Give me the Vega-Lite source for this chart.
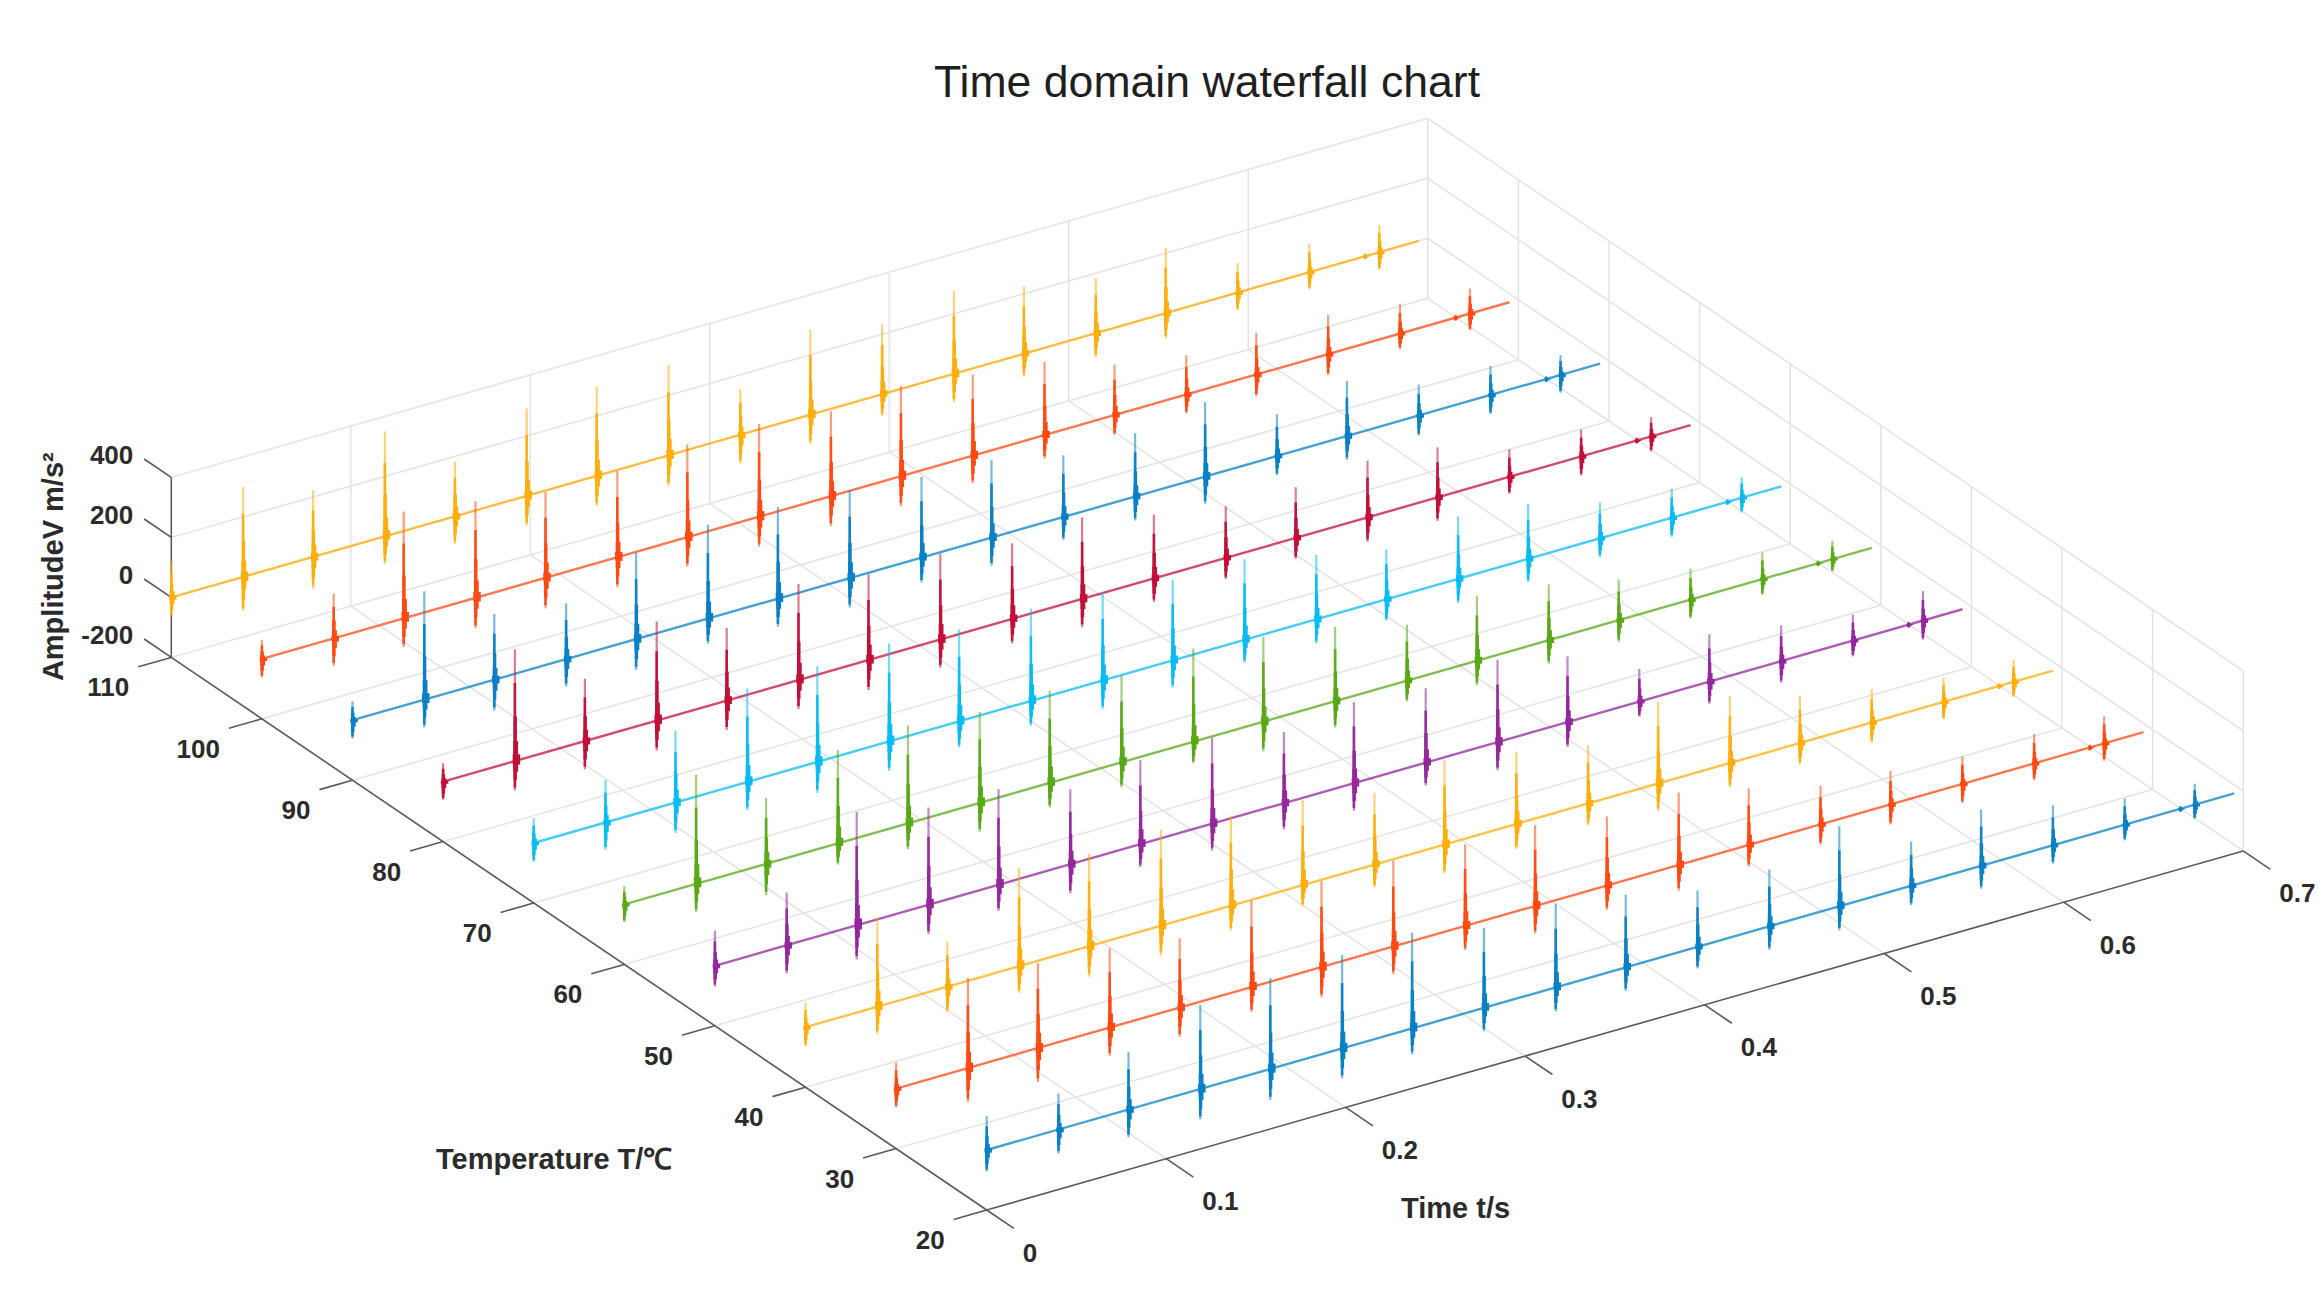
{"$schema":"https://vega.github.io/schema/vega-lite/v6.json","width":2324,"height":1302,"padding":0,"autosize":{"type":"none"},"background":"white","config":{"view":{"stroke":null}},
"title":{"text":"Time domain waterfall chart","anchor":"middle","frame":"group","dx":45,"dy":111,"fontSize":44.6,"fontWeight":"normal","font":"Liberation Sans","color":"#1f1f1f"},
"datasets":{
"grid":[
{"t":0.1,"T":20,"a":-200,"t2":0.1,"T2":110,"a2":-200},{"t":0.2,"T":20,"a":-200,"t2":0.2,"T2":110,"a2":-200},{"t":0.3,"T":20,"a":-200,"t2":0.3,"T2":110,"a2":-200},{"t":0.4,"T":20,"a":-200,"t2":0.4,"T2":110,"a2":-200},{"t":0.5,"T":20,"a":-200,"t2":0.5,"T2":110,"a2":-200},{"t":0.6,"T":20,"a":-200,"t2":0.6,"T2":110,"a2":-200},{"t":0.7,"T":20,"a":-200,"t2":0.7,"T2":110,"a2":-200},
{"t":0,"T":30,"a":-200,"t2":0.7,"T2":30,"a2":-200},{"t":0,"T":40,"a":-200,"t2":0.7,"T2":40,"a2":-200},{"t":0,"T":50,"a":-200,"t2":0.7,"T2":50,"a2":-200},{"t":0,"T":60,"a":-200,"t2":0.7,"T2":60,"a2":-200},{"t":0,"T":70,"a":-200,"t2":0.7,"T2":70,"a2":-200},{"t":0,"T":80,"a":-200,"t2":0.7,"T2":80,"a2":-200},{"t":0,"T":90,"a":-200,"t2":0.7,"T2":90,"a2":-200},{"t":0,"T":100,"a":-200,"t2":0.7,"T2":100,"a2":-200},{"t":0,"T":110,"a":-200,"t2":0.7,"T2":110,"a2":-200},
{"t":0.1,"T":110,"a":-200,"t2":0.1,"T2":110,"a2":400},{"t":0.2,"T":110,"a":-200,"t2":0.2,"T2":110,"a2":400},{"t":0.3,"T":110,"a":-200,"t2":0.3,"T2":110,"a2":400},{"t":0.4,"T":110,"a":-200,"t2":0.4,"T2":110,"a2":400},{"t":0.5,"T":110,"a":-200,"t2":0.5,"T2":110,"a2":400},{"t":0.6,"T":110,"a":-200,"t2":0.6,"T2":110,"a2":400},{"t":0.7,"T":110,"a":-200,"t2":0.7,"T2":110,"a2":400},
{"t":0,"T":110,"a":0,"t2":0.7,"T2":110,"a2":0},{"t":0,"T":110,"a":200,"t2":0.7,"T2":110,"a2":200},{"t":0,"T":110,"a":400,"t2":0.7,"T2":110,"a2":400},
{"t":0.7,"T":20,"a":-200,"t2":0.7,"T2":20,"a2":400},{"t":0.7,"T":30,"a":-200,"t2":0.7,"T2":30,"a2":400},{"t":0.7,"T":40,"a":-200,"t2":0.7,"T2":40,"a2":400},{"t":0.7,"T":50,"a":-200,"t2":0.7,"T2":50,"a2":400},{"t":0.7,"T":60,"a":-200,"t2":0.7,"T2":60,"a2":400},{"t":0.7,"T":70,"a":-200,"t2":0.7,"T2":70,"a2":400},{"t":0.7,"T":80,"a":-200,"t2":0.7,"T2":80,"a2":400},{"t":0.7,"T":90,"a":-200,"t2":0.7,"T2":90,"a2":400},{"t":0.7,"T":100,"a":-200,"t2":0.7,"T2":100,"a2":400},
{"t":0.7,"T":20,"a":0,"t2":0.7,"T2":110,"a2":0},{"t":0.7,"T":20,"a":200,"t2":0.7,"T2":110,"a2":200},{"t":0.7,"T":20,"a":400,"t2":0.7,"T2":110,"a2":400}],
"axes":[
{"t":0,"T":20,"a":-200,"t2":0.7,"T2":20,"a2":-200},{"t":0,"T":20,"a":-200,"t2":0,"T2":110,"a2":-200},{"t":0,"T":110,"a":-200,"t2":0,"T2":110,"a2":400},
{"t":0,"T":20,"a":-200,"t2":-0.0184,"T2":20,"a2":-200},{"t":0,"T":30,"a":-200,"t2":-0.0184,"T2":30,"a2":-200},{"t":0,"T":40,"a":-200,"t2":-0.0184,"T2":40,"a2":-200},{"t":0,"T":50,"a":-200,"t2":-0.0184,"T2":50,"a2":-200},{"t":0,"T":60,"a":-200,"t2":-0.0184,"T2":60,"a2":-200},{"t":0,"T":70,"a":-200,"t2":-0.0184,"T2":70,"a2":-200},{"t":0,"T":80,"a":-200,"t2":-0.0184,"T2":80,"a2":-200},{"t":0,"T":90,"a":-200,"t2":-0.0184,"T2":90,"a2":-200},{"t":0,"T":100,"a":-200,"t2":-0.0184,"T2":100,"a2":-200},{"t":0,"T":110,"a":-200,"t2":-0.0184,"T2":110,"a2":-200},
{"t":0,"T":20,"a":-200,"t2":0,"T2":17,"a2":-200},{"t":0.1,"T":20,"a":-200,"t2":0.1,"T2":17,"a2":-200},{"t":0.2,"T":20,"a":-200,"t2":0.2,"T2":17,"a2":-200},{"t":0.3,"T":20,"a":-200,"t2":0.3,"T2":17,"a2":-200},{"t":0.4,"T":20,"a":-200,"t2":0.4,"T2":17,"a2":-200},{"t":0.5,"T":20,"a":-200,"t2":0.5,"T2":17,"a2":-200},{"t":0.6,"T":20,"a":-200,"t2":0.6,"T2":17,"a2":-200},{"t":0.7,"T":20,"a":-200,"t2":0.7,"T2":17,"a2":-200},
{"t":0,"T":110,"a":-200,"t2":0,"T2":113,"a2":-200},{"t":0,"T":110,"a":0,"t2":0,"T2":113,"a2":0},{"t":0,"T":110,"a":200,"t2":0,"T2":113,"a2":200},{"t":0,"T":110,"a":400,"t2":0,"T2":113,"a2":400}],
"baselines":[{"T":110,"t":0,"t2":0.695},{"T":100,"t":0,"t2":0.695},{"T":90,"t":0,"t2":0.695},{"T":80,"t":0,"t2":0.695},{"T":70,"t":0,"t2":0.695},{"T":60,"t":0,"t2":0.695},{"T":50,"t":0,"t2":0.695},{"T":40,"t":0,"t2":0.695},{"T":30,"t":0,"t2":0.695},{"T":20,"t":0,"t2":0.695}],
"ampLabels":[{"t":0,"T":110,"a":-200,"label":"-200"},{"t":0,"T":110,"a":0,"label":"0"},{"t":0,"T":110,"a":200,"label":"200"},{"t":0,"T":110,"a":400,"label":"400"}],
"tempLabels":[{"t":0,"T":20,"a":-200,"label":"20"},{"t":0,"T":30,"a":-200,"label":"30"},{"t":0,"T":40,"a":-200,"label":"40"},{"t":0,"T":50,"a":-200,"label":"50"},{"t":0,"T":60,"a":-200,"label":"60"},{"t":0,"T":70,"a":-200,"label":"70"},{"t":0,"T":80,"a":-200,"label":"80"},{"t":0,"T":90,"a":-200,"label":"90"},{"t":0,"T":100,"a":-200,"label":"100"},{"t":0,"T":110,"a":-200,"label":"110"}],
"timeLabels":[{"t":0,"T":20,"a":-200,"label":"0"},{"t":0.1,"T":20,"a":-200,"label":"0.1"},{"t":0.2,"T":20,"a":-200,"label":"0.2"},{"t":0.3,"T":20,"a":-200,"label":"0.3"},{"t":0.4,"T":20,"a":-200,"label":"0.4"},{"t":0.5,"T":20,"a":-200,"label":"0.5"},{"t":0.6,"T":20,"a":-200,"label":"0.6"},{"t":0.7,"T":20,"a":-200,"label":"0.7"}],
"axisTitles":[{"t":-0.139,"T":40.2,"a":-200,"label":"Temperature T/℃"},{"t":0.186,"T":5.1,"a":-200,"label":"Time t/s"}],
"ampTitle":[{"t":-0.0975,"T":103.6,"a":400,"label":"AmplitudeV m/s²"}],
"spikes":[
{"T":110,"t":0,"up":120,"down":63},{"T":110,"t":0.04,"up":300,"down":114},{"T":110,"t":0.079,"up":222,"down":106},{"T":110,"t":0.119,"up":350,"down":92},{"T":110,"t":0.158,"up":183,"down":92},{"T":110,"t":0.198,"up":291,"down":100},{"T":110,"t":0.237,"up":297,"down":100},{"T":110,"t":0.277,"up":301,"down":102},{"T":110,"t":0.317,"up":153,"down":96},{"T":110,"t":0.356,"up":283,"down":98},{"T":110,"t":0.396,"up":233,"down":72},{"T":110,"t":0.436,"up":276,"down":94},{"T":110,"t":0.475,"up":224,"down":76},{"T":110,"t":0.515,"up":184,"down":80},{"T":110,"t":0.554,"up":218,"down":84},{"T":110,"t":0.594,"up":99,"down":59},{"T":110,"t":0.634,"up":94,"down":57},{"T":110,"t":0.665,"up":10,"down":10},{"T":110,"t":0.673,"up":91,"down":59},
{"T":100,"t":0,"up":63,"down":62},{"T":100,"t":0.04,"up":149,"down":92},{"T":100,"t":0.079,"up":356,"down":96},{"T":100,"t":0.119,"up":322,"down":102},{"T":100,"t":0.158,"up":286,"down":102},{"T":100,"t":0.198,"up":287,"down":100},{"T":100,"t":0.237,"up":309,"down":98},{"T":100,"t":0.277,"up":309,"down":100},{"T":100,"t":0.317,"up":283,"down":100},{"T":100,"t":0.356,"up":300,"down":100},{"T":100,"t":0.396,"up":270,"down":92},{"T":100,"t":0.436,"up":244,"down":78},{"T":100,"t":0.475,"up":168,"down":66},{"T":100,"t":0.515,"up":131,"down":63},{"T":100,"t":0.554,"up":139,"down":72},{"T":100,"t":0.594,"up":130,"down":70},{"T":100,"t":0.634,"up":98,"down":52},{"T":100,"t":0.665,"up":10,"down":10},{"T":100,"t":0.673,"up":83,"down":56},
{"T":90,"t":0,"up":63,"down":61},{"T":90,"t":0.04,"up":361,"down":92},{"T":90,"t":0.079,"up":219,"down":103},{"T":90,"t":0.119,"up":186,"down":91},{"T":90,"t":0.158,"up":287,"down":102},{"T":90,"t":0.198,"up":313,"down":83},{"T":90,"t":0.237,"up":306,"down":94},{"T":90,"t":0.277,"up":293,"down":98},{"T":90,"t":0.317,"up":269,"down":83},{"T":90,"t":0.356,"up":258,"down":94},{"T":90,"t":0.396,"up":206,"down":76},{"T":90,"t":0.436,"up":211,"down":80},{"T":90,"t":0.475,"up":248,"down":91},{"T":90,"t":0.515,"up":139,"down":64},{"T":90,"t":0.554,"up":183,"down":79},{"T":90,"t":0.594,"up":103,"down":67},{"T":90,"t":0.634,"up":97,"down":64},{"T":90,"t":0.665,"up":10,"down":10},{"T":90,"t":0.673,"up":66,"down":59},
{"T":80,"t":0,"up":61,"down":61},{"T":80,"t":0.04,"up":372,"down":98},{"T":80,"t":0.079,"up":208,"down":94},{"T":80,"t":0.119,"up":330,"down":100},{"T":80,"t":0.158,"up":242,"down":98},{"T":80,"t":0.198,"up":320,"down":97},{"T":80,"t":0.237,"up":286,"down":100},{"T":80,"t":0.277,"up":286,"down":94},{"T":80,"t":0.317,"up":252,"down":81},{"T":80,"t":0.356,"up":272,"down":94},{"T":80,"t":0.396,"up":213,"down":78},{"T":80,"t":0.436,"up":172,"down":70},{"T":80,"t":0.475,"up":169,"down":70},{"T":80,"t":0.515,"up":189,"down":81},{"T":80,"t":0.554,"up":167,"down":78},{"T":80,"t":0.594,"up":92,"down":56},{"T":80,"t":0.634,"up":89,"down":64},{"T":80,"t":0.665,"up":10,"down":10},{"T":80,"t":0.673,"up":64,"down":50},
{"T":70,"t":0,"up":83,"down":63},{"T":70,"t":0.04,"up":142,"down":91},{"T":70,"t":0.079,"up":239,"down":102},{"T":70,"t":0.119,"up":311,"down":94},{"T":70,"t":0.158,"up":319,"down":103},{"T":70,"t":0.198,"up":327,"down":98},{"T":70,"t":0.237,"up":307,"down":87},{"T":70,"t":0.277,"up":307,"down":83},{"T":70,"t":0.317,"up":293,"down":96},{"T":70,"t":0.356,"up":269,"down":91},{"T":70,"t":0.396,"up":269,"down":76},{"T":70,"t":0.436,"up":214,"down":80},{"T":70,"t":0.475,"up":167,"down":71},{"T":70,"t":0.515,"up":208,"down":81},{"T":70,"t":0.554,"up":183,"down":78},{"T":70,"t":0.594,"up":119,"down":63},{"T":70,"t":0.634,"up":97,"down":64},{"T":70,"t":0.665,"up":10,"down":10},{"T":70,"t":0.673,"up":68,"down":49},
{"T":60,"t":0,"up":61,"down":59},{"T":60,"t":0.04,"up":364,"down":94},{"T":60,"t":0.079,"up":220,"down":104},{"T":60,"t":0.119,"up":311,"down":71},{"T":60,"t":0.158,"up":326,"down":86},{"T":60,"t":0.198,"up":303,"down":97},{"T":60,"t":0.237,"up":306,"down":83},{"T":60,"t":0.277,"up":289,"down":83},{"T":60,"t":0.317,"up":311,"down":72},{"T":60,"t":0.356,"up":283,"down":99},{"T":60,"t":0.396,"up":248,"down":88},{"T":60,"t":0.436,"up":187,"down":69},{"T":60,"t":0.475,"up":216,"down":81},{"T":60,"t":0.515,"up":186,"down":78},{"T":60,"t":0.554,"up":136,"down":72},{"T":60,"t":0.594,"up":103,"down":63},{"T":60,"t":0.634,"up":89,"down":52},{"T":60,"t":0.665,"up":10,"down":10},{"T":60,"t":0.673,"up":61,"down":41},
{"T":50,"t":0,"up":117,"down":69},{"T":50,"t":0.04,"up":176,"down":94},{"T":50,"t":0.079,"up":378,"down":114},{"T":50,"t":0.119,"up":324,"down":98},{"T":50,"t":0.158,"up":319,"down":87},{"T":50,"t":0.198,"up":250,"down":97},{"T":50,"t":0.237,"up":280,"down":76},{"T":50,"t":0.277,"up":287,"down":89},{"T":50,"t":0.317,"up":237,"down":87},{"T":50,"t":0.356,"up":270,"down":92},{"T":50,"t":0.396,"up":248,"down":76},{"T":50,"t":0.436,"up":274,"down":94},{"T":50,"t":0.475,"up":219,"down":83},{"T":50,"t":0.515,"up":109,"down":50},{"T":50,"t":0.554,"up":158,"down":74},{"T":50,"t":0.594,"up":119,"down":72},{"T":50,"t":0.634,"up":86,"down":53},{"T":50,"t":0.665,"up":10,"down":10},{"T":50,"t":0.673,"up":98,"down":64},
{"T":40,"t":0,"up":82,"down":64},{"T":40,"t":0.04,"up":298,"down":91},{"T":40,"t":0.079,"up":150,"down":86},{"T":40,"t":0.119,"up":328,"down":89},{"T":40,"t":0.158,"up":308,"down":102},{"T":40,"t":0.198,"up":319,"down":100},{"T":40,"t":0.237,"up":300,"down":83},{"T":40,"t":0.277,"up":283,"down":70},{"T":40,"t":0.317,"up":239,"down":76},{"T":40,"t":0.356,"up":281,"down":97},{"T":40,"t":0.396,"up":241,"down":84},{"T":40,"t":0.436,"up":194,"down":73},{"T":40,"t":0.475,"up":272,"down":92},{"T":40,"t":0.515,"up":222,"down":81},{"T":40,"t":0.554,"up":158,"down":72},{"T":40,"t":0.594,"up":111,"down":67},{"T":40,"t":0.634,"up":81,"down":59},{"T":40,"t":0.665,"up":10,"down":10},{"T":40,"t":0.673,"up":74,"down":50},
{"T":30,"t":0,"up":87,"down":63},{"T":30,"t":0.04,"up":300,"down":113},{"T":30,"t":0.079,"up":283,"down":113},{"T":30,"t":0.119,"up":264,"down":94},{"T":30,"t":0.158,"up":231,"down":98},{"T":30,"t":0.198,"up":287,"down":83},{"T":30,"t":0.237,"up":286,"down":101},{"T":30,"t":0.277,"up":286,"down":92},{"T":30,"t":0.317,"up":272,"down":80},{"T":30,"t":0.356,"up":269,"down":92},{"T":30,"t":0.396,"up":230,"down":81},{"T":30,"t":0.436,"up":241,"down":86},{"T":30,"t":0.475,"up":189,"down":72},{"T":30,"t":0.515,"up":128,"down":67},{"T":30,"t":0.554,"up":111,"down":67},{"T":30,"t":0.594,"up":91,"down":64},{"T":30,"t":0.634,"up":97,"down":56},{"T":30,"t":0.665,"up":10,"down":10},{"T":30,"t":0.673,"up":90,"down":58},
{"T":20,"t":0,"up":113,"down":72},{"T":20,"t":0.04,"up":120,"down":80},{"T":20,"t":0.079,"up":192,"down":93},{"T":20,"t":0.119,"up":280,"down":101},{"T":20,"t":0.158,"up":303,"down":103},{"T":20,"t":0.198,"up":311,"down":100},{"T":20,"t":0.237,"up":319,"down":86},{"T":20,"t":0.277,"up":267,"down":78},{"T":20,"t":0.317,"up":279,"down":80},{"T":20,"t":0.356,"up":242,"down":78},{"T":20,"t":0.396,"up":188,"down":72},{"T":20,"t":0.436,"up":189,"down":78},{"T":20,"t":0.475,"up":267,"down":80},{"T":20,"t":0.515,"up":147,"down":64},{"T":20,"t":0.554,"up":187,"down":76},{"T":20,"t":0.594,"up":133,"down":61},{"T":20,"t":0.634,"up":87,"down":52},{"T":20,"t":0.665,"up":10,"down":10},{"T":20,"t":0.673,"up":70,"down":47}]
},
"layer":[
{"data":{"name":"grid"},"transform":[{"calculate":"986.7+1795*datum.t-9.06*(datum.T-20)","as":"px"},{"calculate":"1210-513*datum.t-6.14*(datum.T-20)-0.3*(datum.a+200)","as":"py"},{"calculate":"986.7+1795*datum.t2-9.06*(datum.T2-20)","as":"px2"},{"calculate":"1210-513*datum.t2-6.14*(datum.T2-20)-0.3*(datum.a2+200)","as":"py2"}],
"mark":{"type":"rule","stroke":"#e3e3e3","strokeWidth":1.5},
"encoding":{"x":{"field":"px","type":"quantitative","scale":{"domain":[0,2324],"zero":false,"nice":false},"axis":null},"y":{"field":"py","type":"quantitative","scale":{"domain":[0,1302],"zero":false,"nice":false,"reverse":true},"axis":null},"x2":{"field":"px2"},"y2":{"field":"py2"}}},
{"data":{"name":"axes"},"transform":[{"calculate":"986.7+1795*datum.t-9.06*(datum.T-20)","as":"px"},{"calculate":"1210-513*datum.t-6.14*(datum.T-20)-0.3*(datum.a+200)","as":"py"},{"calculate":"986.7+1795*datum.t2-9.06*(datum.T2-20)","as":"px2"},{"calculate":"1210-513*datum.t2-6.14*(datum.T2-20)-0.3*(datum.a2+200)","as":"py2"}],
"mark":{"type":"rule","stroke":"#5a5a5a","strokeWidth":1.6},
"encoding":{"x":{"field":"px","type":"quantitative"},"y":{"field":"py","type":"quantitative"},"x2":{"field":"px2"},"y2":{"field":"py2"}}},
{"data":{"name":"baselines"},"transform":[{"calculate":"986.7+1795*datum.t-9.06*(datum.T-20)","as":"px"},{"calculate":"1150-513*datum.t-6.14*(datum.T-20)","as":"py"},{"calculate":"986.7+1795*datum.t2-9.06*(datum.T-20)","as":"px2"},{"calculate":"1150-513*datum.t2-6.14*(datum.T-20)","as":"py2"}],
"mark":{"type":"rule","strokeWidth":2.4,"opacity":0.75},
"encoding":{"x":{"field":"px","type":"quantitative"},"y":{"field":"py","type":"quantitative"},"x2":{"field":"px2"},"y2":{"field":"py2"},
"color":{"field":"T","type":"nominal","legend":null,"scale":{"domain":[20,30,40,50,60,70,80,90,100,110],"range":["#0a80c4","#ff4a14","#ffae0d","#93279b","#58a818","#08bcf2","#c01038","#0a80c4","#ff4a14","#ffae0d"]}}}},
{"data":{"name":"spikes"},"transform":[{"calculate":"986.7+1795*datum.t-9.06*(datum.T-20)","as":"px"},{"calculate":"1150-513*datum.t-6.14*(datum.T-20)","as":"py"},
{"calculate":"datum.py-0.3*datum.up","as":"h1"},{"calculate":"datum.py+0.3*datum.down","as":"l1"},
{"calculate":"datum.py-0.3*datum.up*0.7","as":"h2"},{"calculate":"datum.py+0.3*datum.down*0.9","as":"l2"},
{"calculate":"datum.py-0.3*datum.up*0.4","as":"h3"},{"calculate":"datum.py+0.3*datum.down*0.65","as":"l3"},
{"calculate":"datum.py-0.3*datum.up*0.18","as":"h4"},{"calculate":"datum.py+0.3*datum.down*0.36","as":"l4"},
{"calculate":"datum.py-0.3*datum.up*0.06","as":"h5"},{"calculate":"datum.py+0.3*datum.down*0.12","as":"l5"}],
"encoding":{"x":{"field":"px","type":"quantitative"},"color":{"field":"T","type":"nominal","legend":null}},
"layer":[
{"mark":{"type":"rule","strokeWidth":2.2,"opacity":0.55},"encoding":{"y":{"field":"h1","type":"quantitative"},"y2":{"field":"l1"}}},
{"mark":{"type":"rule","strokeWidth":2.6,"opacity":0.95},"encoding":{"y":{"field":"h2","type":"quantitative"},"y2":{"field":"l2"}}},
{"mark":{"type":"rule","strokeWidth":3.4,"xOffset":0.3},"encoding":{"y":{"field":"h3","type":"quantitative"},"y2":{"field":"l3"}}},
{"mark":{"type":"rule","strokeWidth":4.8,"xOffset":0.8},"encoding":{"y":{"field":"h4","type":"quantitative"},"y2":{"field":"l4"}}},
{"mark":{"type":"rule","strokeWidth":7.5,"xOffset":1.5},"encoding":{"y":{"field":"h5","type":"quantitative"},"y2":{"field":"l5"}}}]},
{"data":{"name":"ampLabels"},"transform":[{"calculate":"986.7+1795*datum.t-9.06*(datum.T-20)","as":"px"},{"calculate":"1210-513*datum.t-6.14*(datum.T-20)-0.3*(datum.a+200)","as":"py"}],
"mark":{"type":"text","font":"Liberation Sans","fontWeight":"bold","fontSize":26,"color":"#2b2b2b","align":"right","baseline":"middle","dx":-38,"dy":-21.5},
"encoding":{"x":{"field":"px","type":"quantitative"},"y":{"field":"py","type":"quantitative"},"text":{"field":"label"}}},
{"data":{"name":"tempLabels"},"transform":[{"calculate":"986.7+1795*datum.t-9.06*(datum.T-20)","as":"px"},{"calculate":"1210-513*datum.t-6.14*(datum.T-20)-0.3*(datum.a+200)","as":"py"}],
"mark":{"type":"text","font":"Liberation Sans","fontWeight":"bold","fontSize":26,"color":"#2b2b2b","align":"right","baseline":"middle","dx":-42,"dy":31},
"encoding":{"x":{"field":"px","type":"quantitative"},"y":{"field":"py","type":"quantitative"},"text":{"field":"label"}}},
{"data":{"name":"timeLabels"},"transform":[{"calculate":"986.7+1795*datum.t-9.06*(datum.T-20)","as":"px"},{"calculate":"1210-513*datum.t-6.14*(datum.T-20)-0.3*(datum.a+200)","as":"py"}],
"mark":{"type":"text","font":"Liberation Sans","fontWeight":"bold","fontSize":26,"color":"#2b2b2b","align":"left","baseline":"middle","dx":36,"dy":43.5},
"encoding":{"x":{"field":"px","type":"quantitative"},"y":{"field":"py","type":"quantitative"},"text":{"field":"label"}}},
{"data":{"name":"axisTitles"},"transform":[{"calculate":"986.7+1795*datum.t-9.06*(datum.T-20)","as":"px"},{"calculate":"1210-513*datum.t-6.14*(datum.T-20)-0.3*(datum.a+200)","as":"py"}],
"mark":{"type":"text","font":"Liberation Sans","fontWeight":"bold","fontSize":29,"color":"#2b2b2b","align":"center","baseline":"middle","dy":3},
"encoding":{"x":{"field":"px","type":"quantitative"},"y":{"field":"py","type":"quantitative"},"text":{"field":"label"}}},
{"data":{"name":"ampTitle"},"transform":[{"calculate":"986.7+1795*datum.t-9.06*(datum.T-20)","as":"px"},{"calculate":"1210-513*datum.t-6.14*(datum.T-20)-0.3*(datum.a+200)","as":"py"}],
"mark":{"type":"text","font":"Liberation Sans","fontWeight":"bold","fontSize":29,"color":"#2b2b2b","align":"center","baseline":"middle","angle":270},
"encoding":{"x":{"field":"px","type":"quantitative"},"y":{"field":"py","type":"quantitative"},"text":{"field":"label"}}}
]}
